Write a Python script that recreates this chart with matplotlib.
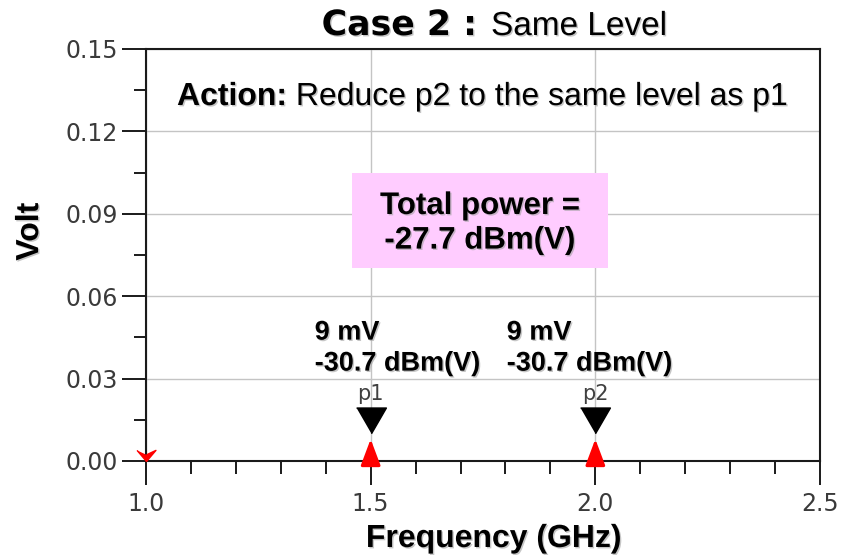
import matplotlib
matplotlib.use('Agg')
import matplotlib.pyplot as plt
import matplotlib.patheffects as pe
from matplotlib.patches import Rectangle
from matplotlib.ticker import MultipleLocator, FormatStrFormatter

# spectrum lines (GHz, Volt)
freqs = [1.0, 1.5, 2.0]
volts = [0.0, 0.009, 0.009]

# marker readouts
marker_freqs = [1.5, 2.0]
marker_volts = [0.009, 0.009]
marker_names = ['p1', 'p2']
marker_texts = ['9 mV\n-30.7 dBm(V)', '9 mV\n-30.7 dBm(V)']

title_bold = 'Case 2 :'
title_rest = 'Same Level'
action_bold = 'Action:'
action_rest = ' Reduce p2 to the same level as p1'
total_text = 'Total power =\n-27.7 dBm(V)'

W, H = 854, 556
ARIAL = 'Liberation Sans'
shadow = [pe.withSimplePatchShadow(offset=(1, -1), shadow_rgbFace='#a0a0a0', alpha=0.6)]

fig = plt.figure(figsize=(W / 100, H / 100), dpi=100)
ax = fig.add_axes([146 / W, 1 - 461 / H, 674 / W, 412 / H])

# red spectral lines, zero-level one drawn as a small chevron
chevron = [(-0.85, 1), (0, 0), (0.85, 1), (0, 0.6)]
for f, v in zip(freqs, volts):
    if v > 0:
        ax.annotate('', xy=(f, v), xytext=(f, 0),
                    arrowprops=dict(arrowstyle='-|>,head_length=0.8,head_width=0.3',
                                    color='red', lw=2.2, mutation_scale=20,
                                    shrinkA=0, shrinkB=-2), zorder=5)
    else:
        ax.plot(f, v, ls='none', marker=chevron, ms=16, color='red',
                clip_on=False, zorder=5)

# black marker triangles (tip on the data point)
tri = [(-0.55, 1.05), (0.55, 1.05), (0, 0.1)]
ax.plot(marker_freqs, marker_volts, ls='none', marker=tri, ms=41,
        color='black', zorder=4)

dxs = [-40.3, -63.8]   # text offsets in points
for f, v, name, txt, dx in zip(marker_freqs, marker_volts, marker_names, marker_texts, dxs):
    ax.annotate(name, xy=(f, v), xytext=(0, 26), textcoords='offset points',
                ha='center', va='baseline', fontsize=15, color='#404040', zorder=4)
    ax.annotate(txt, xy=(f, v), xytext=(dx, 84), textcoords='offset points',
                ha='left', va='top', family=ARIAL, weight='bold', fontsize=19.5,
                linespacing=1.25, path_effects=shadow, zorder=6)

# pink total power box
ax.add_patch(Rectangle((0.305, 0.4684), 0.3805, 0.2306, transform=ax.transAxes,
                       fc='#ffccff', ec='none', zorder=2))
ax.text(0.4953, 0.577, total_text, transform=ax.transAxes, ha='center', va='center',
        multialignment='center', family=ARIAL, weight='bold', fontsize=22.5,
        linespacing=1.2, path_effects=shadow, zorder=3)

ax.set_xlim(1.0, 2.5)
ax.set_ylim(0, 0.15)
ax.xaxis.set_major_locator(MultipleLocator(0.5))
ax.xaxis.set_minor_locator(MultipleLocator(0.1))
ax.yaxis.set_major_locator(MultipleLocator(0.03))
ax.yaxis.set_minor_locator(MultipleLocator(0.015))
ax.xaxis.set_major_formatter(FormatStrFormatter('%.1f'))
ax.yaxis.set_major_formatter(FormatStrFormatter('%.2f'))
ax.tick_params(which='major', length=17, width=1.4, labelsize=17,
               labelcolor='#3a3a3a', color='#1a1a1a')
ax.tick_params(which='minor', length=9, width=1.4, color='#1a1a1a')
ax.tick_params(axis='y', pad=3)
ax.tick_params(axis='x', pad=5)
ax.grid(True, which='major', color='#c4c4c4', lw=1)
for s in ax.spines.values():
    s.set_color('#1a1a1a')
    s.set_linewidth(1.5)

ax.set_xlabel('Frequency (GHz)', family=ARIAL, weight='bold', fontsize=23,
              va='baseline', path_effects=shadow)
ax.xaxis.set_label_coords(0.5163, -0.2087)
ax.set_ylabel('Volt', family=ARIAL, weight='bold', fontsize=23,
              va='center', path_effects=shadow)
ax.yaxis.set_label_coords(-0.172, 0.5566)

# title: bold part + regular part
fig.text(477 / W, 1 - 35 / H, title_bold, ha='right', va='baseline',
         family='DejaVu Sans', weight='bold', fontsize=25, path_effects=shadow)
fig.text(491 / W, 1 - 35 / H, title_rest, ha='left', va='baseline',
         family=ARIAL, fontsize=24, path_effects=shadow)

# action line
fig.text(177 / W, 1 - 105 / H, action_bold, ha='left', va='baseline',
         family=ARIAL, weight='bold', fontsize=23, path_effects=shadow)
fig.text(287 / W, 1 - 105 / H, action_rest, ha='left', va='baseline',
         family=ARIAL, fontsize=23, path_effects=shadow)

fig.savefig('out.png', dpi=100)
